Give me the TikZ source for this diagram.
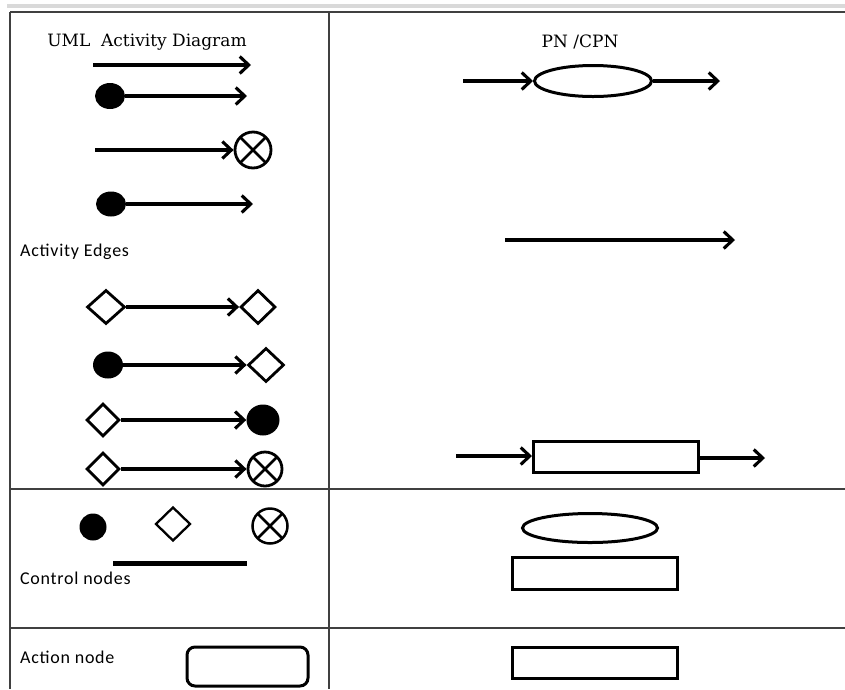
\documentclass[tikz,border=0pt]{standalone}
\usepackage{fontspec}
\setmainfont{DejaVu Serif}
\newfontfamily\calib[LetterSpace=4]{Carlito}
\usetikzlibrary{arrows.meta,shapes.geometric}
\definecolor{rule}{HTML}{404040}
\tikzset{
  flow/.style={line width=3.1pt,-{Straight Barb[length=9pt,width=17pt,line width=3.1pt]}},
  startdot/.style={ellipse,fill=black,inner sep=0pt},
  decision/.style={diamond,draw,line width=2.8pt,inner sep=0pt,fill=white},
  flowfinal/.style={circle,draw,line width=2.8pt,inner sep=0pt,fill=white,
    path picture={\draw[line width=2.6pt]
      (path picture bounding box.north west) -- (path picture bounding box.south east)
      (path picture bounding box.north east) -- (path picture bounding box.south west);}},
  place/.style={ellipse,draw,line width=3pt,inner sep=0pt},
  trans/.style={rectangle,draw,line width=3pt,inner sep=0pt},
  tablerule/.style={draw=rule,line width=1.8pt},
  serifhead/.style={font=\fontsize{17}{20}\selectfont,inner sep=0pt},
  sanslabel/.style={font=\calib\fontsize{18}{21}\selectfont,inner sep=0pt,anchor=west}
}
\begin{document}
\begin{tikzpicture}[x=1pt,y=-1pt]
\useasboundingbox (0,0) rectangle (845,689);
% table
\fill[gray!30] (7,4) rectangle (845,8);
\draw[tablerule] (10,12) -- (845,12);
\draw[tablerule] (10,12) -- (10,689);
\draw[tablerule] (329,12) -- (329,689);
\draw[tablerule] (10,489) -- (845,489);
\draw[tablerule] (10,628) -- (845,628);
% headers
\node[serifhead] (hl) at (147,42) {UML\ \ Activity Diagram};
\node[serifhead] (hr) at (580,42) {PN /CPN};
% row 1
\coordinate (a1s) at (93,65);
\coordinate (a1e) at (251,65);
\draw[flow] (a1s) -- (a1e);
% row 2
\node[startdot,minimum width=30pt,minimum height=26pt] (i2) at (110,96) {};
\coordinate (a2e) at (247,96);
\draw[flow] (i2) -- (a2e);
% row 3
\coordinate (a3s) at (95,150);
\node[flowfinal,minimum size=36pt] (f3) at (253,150) {};
\draw[flow] (a3s) -- (f3);
% row 4
\node[startdot,minimum width=30pt,minimum height=25pt] (i4) at (111,204) {};
\coordinate (a4e) at (253,204);
\draw[flow] (i4) -- (a4e);
% label
\node[sanslabel] (ae) at (20,252) {Activity Edges};
% row 5
\node[decision,minimum width=38pt,minimum height=34pt] (d5a) at (106,307) {};
\node[decision,minimum width=35pt,minimum height=34pt] (d5b) at (258,307) {};
\draw[flow] (d5a) -- (d5b);
% row 6
\node[startdot,minimum width=30pt,minimum height=27pt] (i6) at (108,365) {};
\node[decision,minimum width=36pt,minimum height=34pt] (d6) at (266,365) {};
\draw[flow] (i6) -- (d6);
% row 7
\node[decision,minimum width=33pt,minimum height=33pt] (d7) at (103,420) {};
\node[startdot,minimum width=33pt,minimum height=31pt] (i7) at (263,420) {};
\draw[flow] (d7) -- (i7);
% row 8
\node[decision,minimum width=33pt,minimum height=33pt] (d8) at (103,469) {};
\node[flowfinal,minimum size=34pt] (f8) at (265,469) {};
\draw[flow] (d8) -- (f8);
% right top
\node[place,minimum width=117pt,minimum height=31pt] (p1) at (593,81) {};
\coordinate (p1in) at (463,81);
\coordinate (p1out) at (720,81);
\draw[flow] (p1in) -- (p1);
\draw[flow] (p1) -- (p1out);
\coordinate (la) at (505,240);
\coordinate (lb) at (735,240);
\draw[flow] (la) -- (lb);
\node[trans,minimum width=165pt,minimum height=31pt] (t1) at (616,457) {};
\coordinate (t1in) at (456,456);
\coordinate (t1out) at (765,458);
\draw[flow] (t1in) -- (t1in -| t1.west);
\draw[flow] (t1out -| t1.east) -- (t1out);
% control nodes
\node[startdot,minimum width=27pt,minimum height=27pt] (ci) at (93,527) {};
\node[decision,minimum width=35pt,minimum height=34pt,line width=2.3pt] (cd) at (173,524) {};
\node[flowfinal,minimum size=35pt,line width=2.5pt] (cf) at (270,526) {};
\node[rectangle,fill=black,minimum width=134pt,minimum height=5pt,inner sep=0pt] (bar) at (180,563) {};
\node[sanslabel] (cn) at (20,578) {Control nodes};
\node[place,minimum width=135pt,minimum height=29pt] (p2) at (590,528) {};
\node[trans,minimum width=165pt,minimum height=32pt] (t2) at (594.5,573) {};
% action node
\node[sanslabel] (an) at (20,657) {Action node};
\node[rectangle,draw,line width=3pt,rounded corners=8pt,minimum width=121pt,minimum height=39pt,inner sep=0pt] (act) at (247.5,666.5) {};
\node[trans,minimum width=165pt,minimum height=31pt] (t3) at (594.5,662.5) {};
\end{tikzpicture}
\end{document}
